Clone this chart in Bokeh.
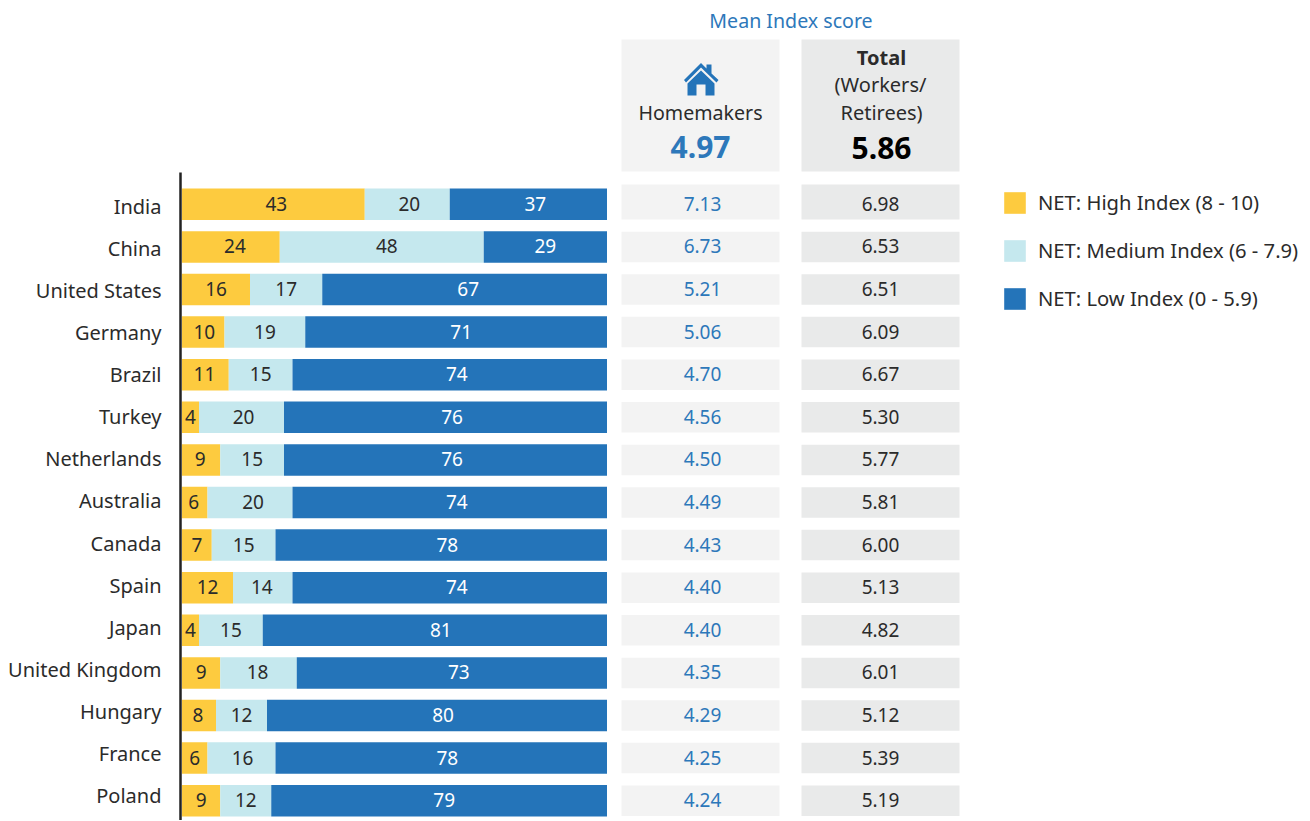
from bokeh.plotting import figure
from bokeh.layouts import column
from bokeh.models import Range1d, LinearAxis, FixedTicker, Legend, LegendItem
from bokeh.core.properties import value
from bokeh.embed import file_html
from bokeh.resources import INLINE

countries = ["India", "China", "United States", "Germany", "Brazil", "Turkey", "Netherlands", "Australia",
             "Canada", "Spain", "Japan", "United Kingdom", "Hungary", "France", "Poland"]
high_labels = [43, 24, 16, 10, 11, 4, 9, 6, 7, 12, 4, 9, 8, 6, 9]
high_bars = [43, 23, 16, 10, 11, 4, 9, 6, 7, 12, 4, 9, 8, 6, 9]
medium = [20, 48, 17, 19, 15, 20, 15, 20, 15, 14, 15, 18, 12, 16, 12]
low = [37, 29, 67, 71, 74, 76, 76, 74, 78, 74, 81, 73, 80, 78, 79]
homemakers = ["7.13", "6.73", "5.21", "5.06", "4.70", "4.56", "4.50", "4.49", "4.43", "4.40", "4.40", "4.35", "4.29", "4.25", "4.24"]
total = ["6.98", "6.53", "6.51", "6.09", "6.67", "5.30", "5.77", "5.81", "6.00", "5.13", "4.82", "6.01", "5.12", "5.39", "5.19"]
series_names = ["NET: High Index (8 - 10)", "NET: Medium Index (6 - 7.9)", "NET: Low Index (0 - 5.9)"]

FONT = "Noto Sans"
YEL, LIGHT, BLUE = "#FDCB3F", "#C5E8EE", "#2474B9"
TILE1, TILE2 = "#F3F3F3", "#E9EAEA"
INK, BLUETXT = "#2B2B2B", "#2D78BA"

# label nudges (px) relative to segment centres, as the reference places them
high_dx = [3, 4, 0, 1, -1, 0, -1, -1, 0, 0, 0, 0, -1, 0, 0]
med_dx = [2, 5, 0, 0, 0, 2, 0, 3, 0, -1, 0, -1, 0, 1, 0]
low_dx = [7, 0, 3.5, 5, 7, 6.5, 6.5, 7, 6, 7, 6, 7, 6, 6, 5]

UNIT, PITCH, ROW0, X0 = 4.25, 42.6, 203.8, 181.5
LPITCH, LROW0 = 42.14, 205.5
TOP, BOTTOM, LEFT, RIGHT = 172, 820, 180, 1309

# ---------- header ----------
h = figure(width=RIGHT, height=TOP, x_range=Range1d(LEFT, RIGHT), y_range=Range1d(TOP, 0),
           output_backend="svg", toolbar_location=None, min_border=0, min_border_left=LEFT, outline_line_color=None)
h.axis.visible = False
h.grid.visible = False
h.quad(left=[621, 801], right=[779, 959], top=[39, 39], bottom=[171, 171], fill_color=[TILE1, TILE2], line_color=None)
h.patch([683.5, 700.5, 706, 706, 711, 711, 718, 716, 700.5, 685.5], [79.5, 62.5, 68, 64, 64, 73, 79.5, 82, 67, 82], color=BLUE, line_color=None)
h.patch([687, 700.5, 714, 714, 705, 705, 696, 696, 687], [83, 70, 83, 95, 95, 84, 84, 95, 95], color=BLUE, line_color=None)
def htext(x, y, t, color, size, style="normal"):
    h.text([x], [y], text=[t], text_color=color, text_font=value(FONT), text_font_size=size,
           text_font_style=style, text_align="center", text_baseline="middle")
htext(790.5, 20, "Mean Index score", BLUETXT, "19.6px")
htext(700, 112, "Homemakers", INK, "19.6px")
htext(700, 146, "4.97", BLUETXT, "30px", "bold")
htext(881, 57, "Total", INK, "20px", "bold")
htext(880, 84, "(Workers/", INK, "20px")
htext(881, 112, "Retirees)", INK, "20px")
htext(881, 147, "5.86", "#000000", "30px", "bold")

# ---------- main ----------
p = figure(width=RIGHT, height=BOTTOM - TOP, output_backend="svg", toolbar_location=None,
           x_range=Range1d((LEFT - X0) / UNIT, (RIGHT - X0) / UNIT),
           y_range=Range1d((BOTTOM - ROW0) / PITCH, (TOP - ROW0) / PITCH),
           min_border=0, min_border_left=LEFT, outline_line_color=None)
p.extra_x_ranges["px"] = Range1d(LEFT, RIGHT)
p.extra_y_ranges["labels"] = Range1d((BOTTOM - LROW0) / LPITCH, (TOP - LROW0) / LPITCH)
p.axis.visible = False
p.grid.visible = False
ax = LinearAxis(y_range_name="labels", ticker=FixedTicker(ticks=list(range(15))),
                major_label_overrides={i: c for i, c in enumerate(countries)},
                major_tick_line_color=None, minor_tick_line_color=None,
                axis_line_color="#222222", axis_line_width=2.5, major_label_standoff=13,
                major_label_text_font=FONT, major_label_text_font_size="20px", major_label_text_color=INK)
p.add_layout(ax, "left")

rows = list(range(15))
m1 = high_bars
m2 = [a + b for a, b in zip(high_bars, medium)]
m3 = [a + b for a, b in zip(m2, low)]
BH = 31.5 / PITCH
r1 = p.hbar(y=rows, left=[0] * 15, right=m1, height=BH, color=YEL, line_width=0)
r2 = p.hbar(y=rows, left=m1, right=m2, height=BH, color=LIGHT, line_width=0)
r3 = p.hbar(y=rows, left=m2, right=m3, height=BH, color=BLUE, line_width=0)

def lab(xs, labels, color, dx):
    p.text(xs, rows, text=[str(v) for v in labels], text_color=color, text_font=value(FONT), text_font_size="19px",
           text_align="center", text_baseline="middle", y_offset=-0.5, x_offset=dx)
lab([(0 + b) / 2 for b in m1], high_labels, INK, high_dx)
lab([(a + b) / 2 for a, b in zip(m1, m2)], medium, INK, med_dx)
lab([(a + b) / 2 for a, b in zip(m2, m3)], low, "#FFFFFF", low_dx)

# tiles
TH = 30.5 / PITCH
tops = [r - TH / 2 for r in rows]
tops[0] = (184 - ROW0) / PITCH
bots = [r + TH / 2 for r in rows]
bots[0] = (219 - ROW0) / PITCH
p.quad(left=[621] * 15, right=[779] * 15, top=tops, bottom=bots, color=TILE1, x_range_name="px", line_width=0)
p.quad(left=[801] * 15, right=[959] * 15, top=tops, bottom=bots, color=TILE2, x_range_name="px", line_width=0)
for cx, vals, col in [(702, homemakers, BLUETXT), (880, total, INK)]:
    p.text([cx] * 15, rows, text=vals, text_color=col, text_font=value(FONT), text_font_size="19px",
           text_align="center", text_baseline="middle", x_range_name="px", y_offset=-0.5)

leg = Legend(items=[LegendItem(label=n, renderers=[r]) for n, r in zip(series_names, [r1, r2, r3])],
             location=(821, 508), orientation="vertical", background_fill_alpha=0, border_line_color=None,
             margin=0, padding=0, spacing=20, glyph_width=27, glyph_height=27, label_width=10, label_standoff=10,
             label_text_font=FONT, label_text_font_size="20.2px", label_text_color=INK, click_policy="none")
p.add_layout(leg, "center")

page = column(h, p, spacing=0)
open("out.html", "w").write(file_html(page, INLINE))
